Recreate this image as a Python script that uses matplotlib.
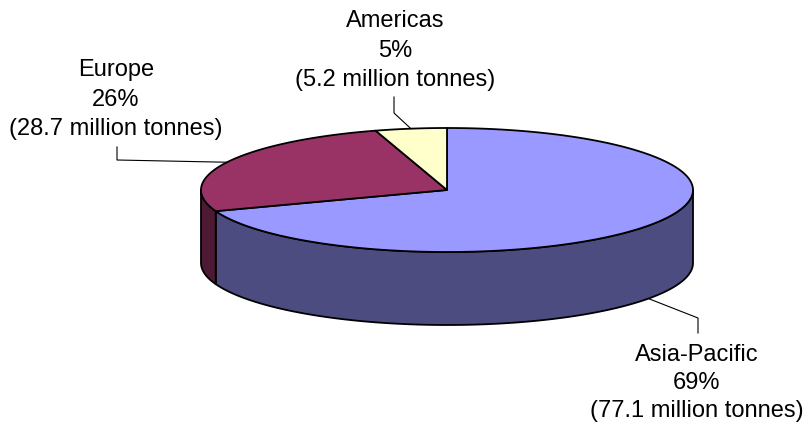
import numpy as np
import matplotlib
matplotlib.use("Agg")
import matplotlib.pyplot as plt
from matplotlib.patches import Polygon

# ---- data ----
regions = ["Asia-Pacific", "Europe", "Americas"]
tonnes = [77.1, 28.7, 5.2]          # million tonnes
top_colors = ["#9999FF", "#993366", "#FFFFCC"]
side_colors = ["#4C4C80", "#4D1A33", "#808066"]

# ---- layout (pixel space) ----
W, H = 806, 423
cx, cy, a, b, depth = 447, 190, 246, 62, 73

fig = plt.figure(figsize=(W / 100, H / 100), dpi=100)
ax = fig.add_axes([0, 0, 1, 1])
ax.set_xlim(0, W)
ax.set_ylim(H, 0)
ax.axis("off")

vals = np.array(tonnes)
frac = vals / vals.sum()
cum = np.concatenate([[0], np.cumsum(frac)])
# clockwise from 12 o'clock -> math angle (deg)
starts = 90 - cum[:-1] * 360
ends = 90 - cum[1:] * 360


def pt(theta_deg, dz=0.0):
    t = np.radians(theta_deg)
    return cx + a * np.cos(t), cy - b * np.sin(t) + dz


lw = 1.3
# sides (front half: math angle in [-180, 0])
for i in range(len(vals)):
    s, e = starts[i], ends[i]  # s > e
    for shift in (0, 360, -360):
        hi = min(s + shift, 0)
        lo = max(e + shift, -180)
        if hi > lo:
            th = np.linspace(hi, lo, 200)
            top = [pt(t) for t in th]
            bot = [pt(t, depth) for t in th[::-1]]
            poly = Polygon(top + bot, closed=True, facecolor=side_colors[i],
                           edgecolor="black", linewidth=lw, joinstyle="round",
                           zorder=1)
            ax.add_patch(poly)

# tops
for i in range(len(vals)):
    th = np.linspace(starts[i], ends[i], 300)
    pts = [(cx, cy)] + [pt(t) for t in th]
    poly = Polygon(pts, closed=True, facecolor=top_colors[i],
                   edgecolor="black", linewidth=lw, joinstyle="round", zorder=2)
    ax.add_patch(poly)

# labels
label_pos = {  # (x center, y of the three lines), leader elbow, leader top
    "Asia-Pacific": ((697, [355, 383, 411]), (698, 318), (698, 333)),
    "Europe": ((116, [70, 100, 129]), (117, 160), (117, 147)),
    "Americas": ((395, [21, 51, 80]), (394, 113), (394, 97)),
}
font = ["Liberation Sans", "DejaVu Sans"]
for i, name in enumerate(regions):
    mid = (starts[i] + ends[i]) / 2
    x0, y0 = pt(mid)
    if np.sin(np.radians(mid)) < 0:
        y0 += depth
    (tx, ys), elbow, tip = label_pos[name]
    ax.plot([x0, elbow[0], tip[0]], [y0, elbow[1], tip[1]], color="black",
            linewidth=0.8, zorder=3)
    lines = [name, f"{frac[i] * 100:.0f}%", f"({tonnes[i]:.1f} million tonnes)"]
    for line, y in zip(lines, ys):
        ax.text(tx, y, line, ha="center", va="center", fontsize=17,
                family=font, color="black", zorder=4)

fig.savefig("out.png", dpi=100)
